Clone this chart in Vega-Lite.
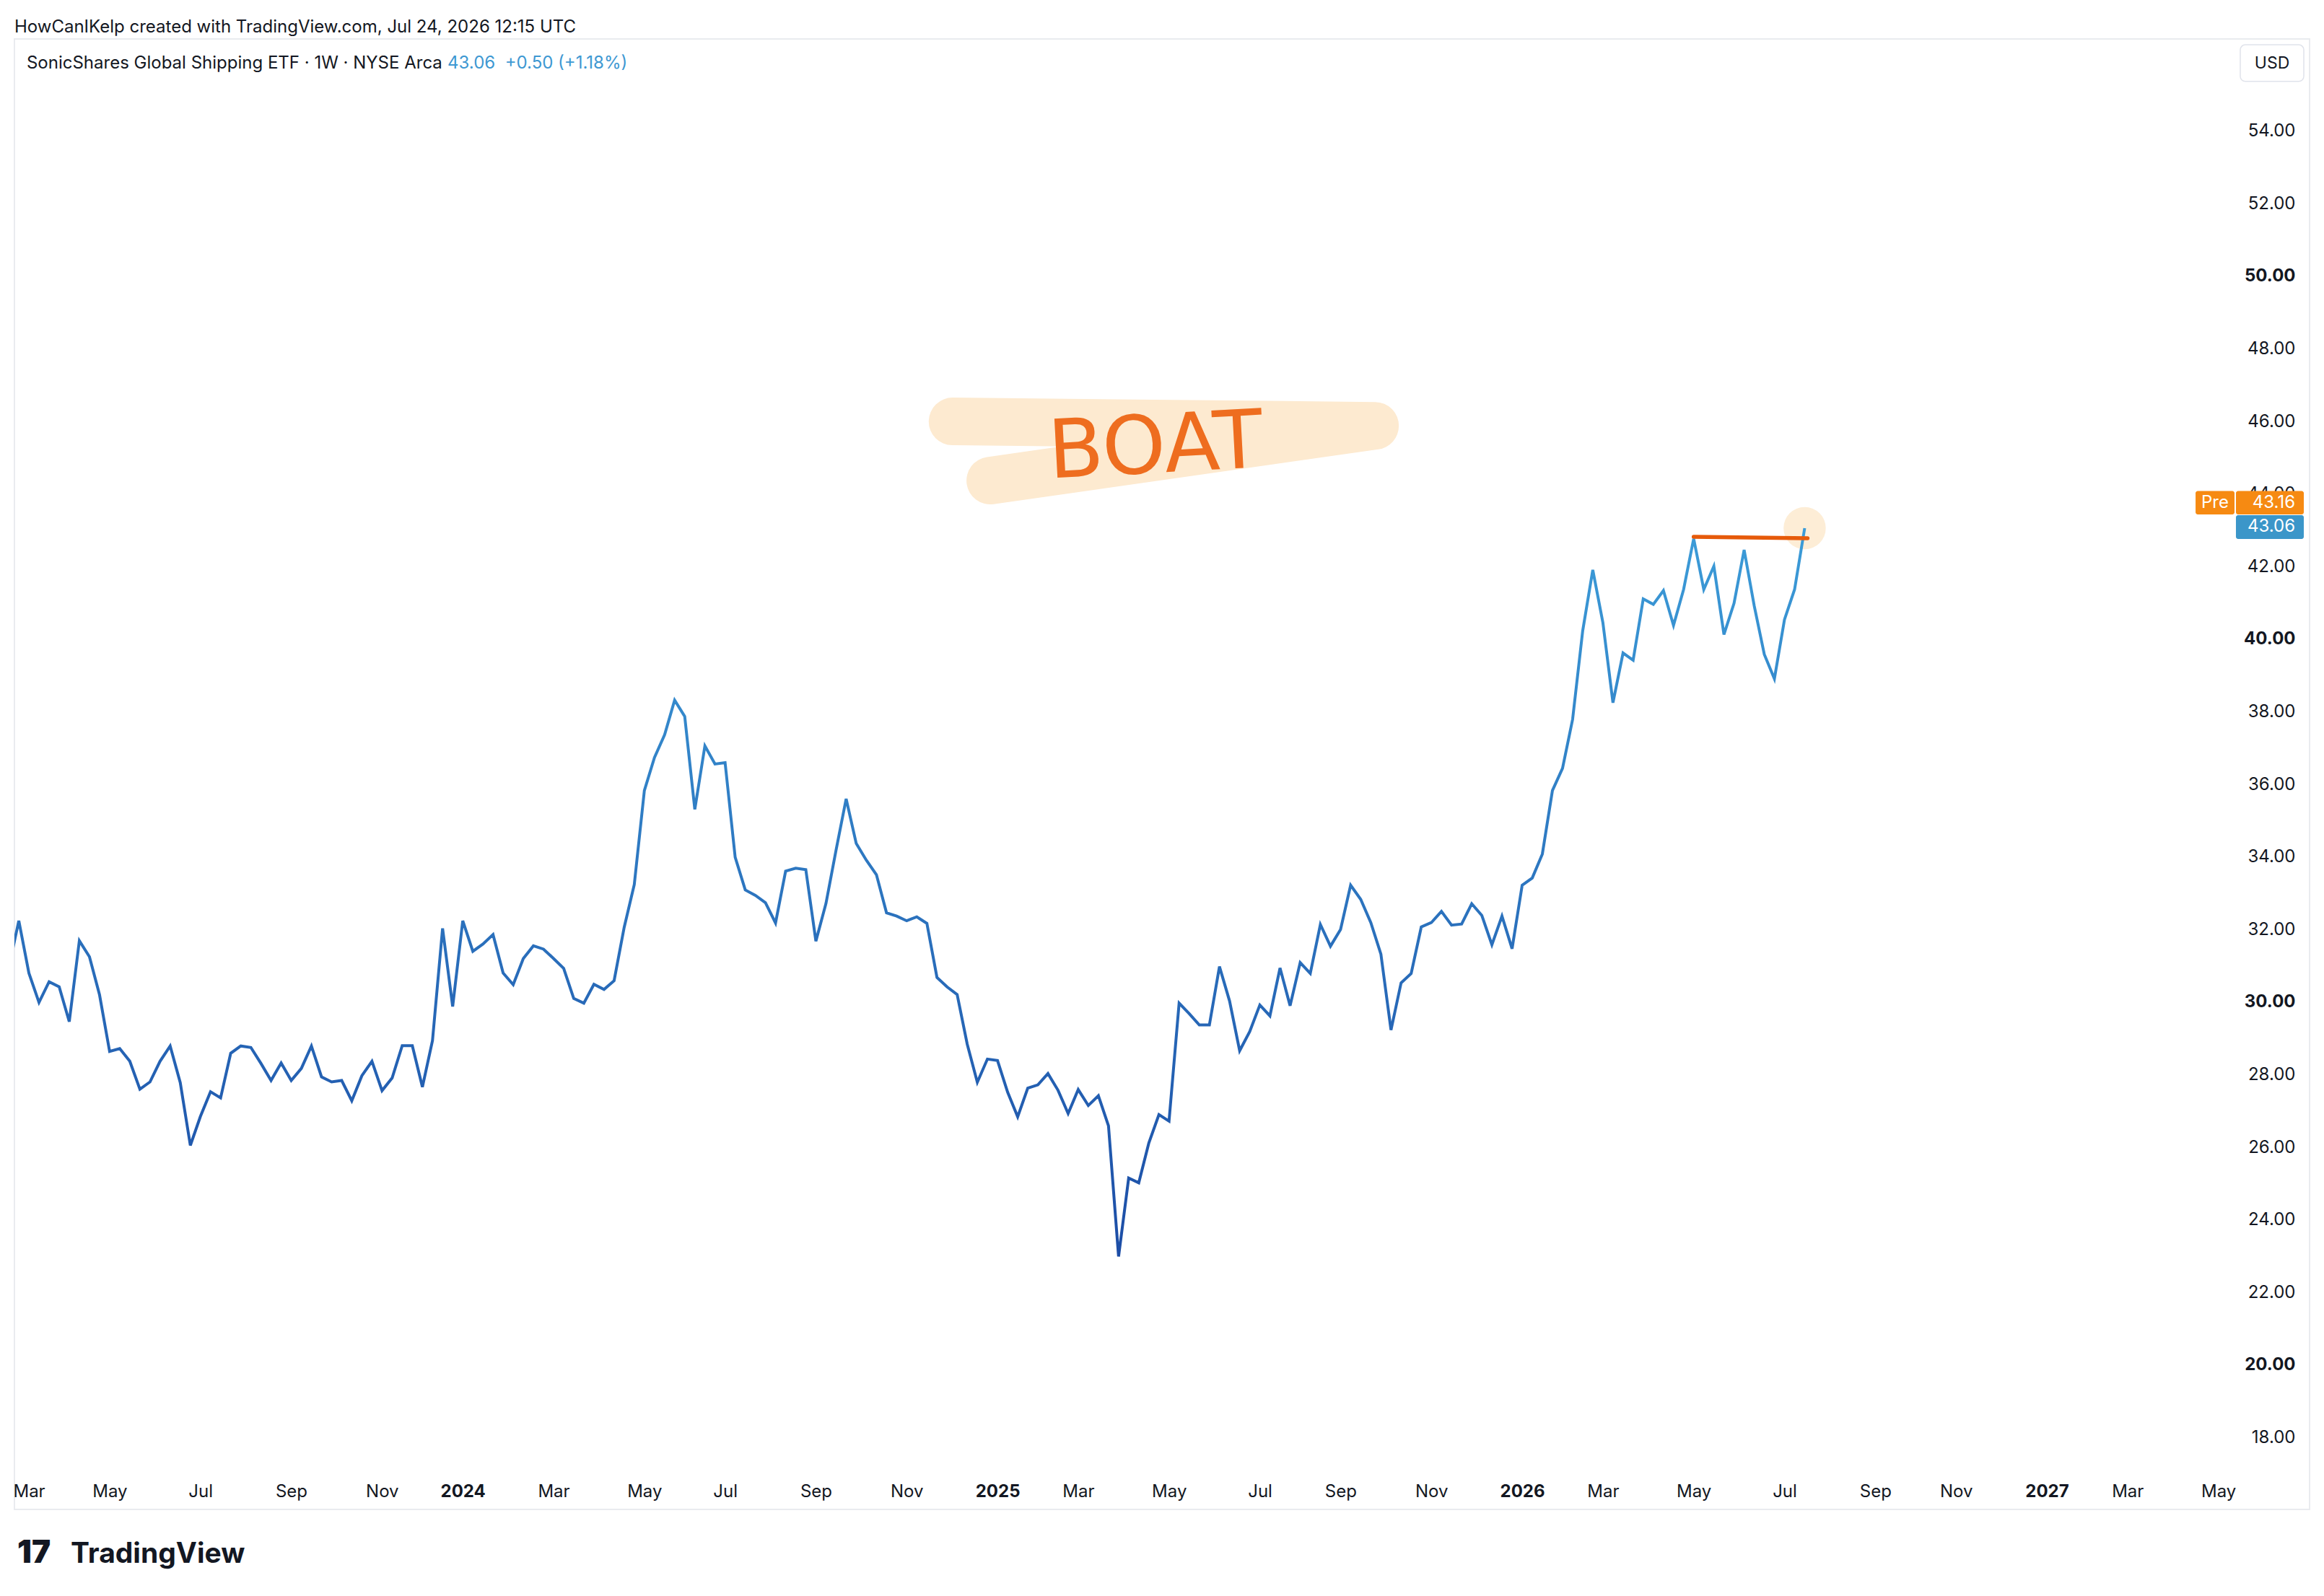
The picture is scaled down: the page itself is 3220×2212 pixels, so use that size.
{
  "$schema": "https://vega.github.io/schema/vega-lite/v6.json",
  "description": "SonicShares Global Shipping ETF (BOAT), weekly close, TradingView style.",
  "width": 3180,
  "height": 2038,
  "autosize": {"type": "none"},
  "padding": {"left": 20, "top": 54, "right": 20, "bottom": 120},
  "background": "#ffffff",
  "config": {
    "font": "Inter",
    "view": {"stroke": "#E9EBEF", "strokeWidth": 2},
    "text": {"font": "Inter", "fontSize": 24, "color": "#131722"}
  },
  "title": {
    "text": "HowCanIKelp created with TradingView.com, Jul 24, 2026 12:15 UTC",
    "anchor": "start",
    "frame": "group",
    "orient": "top",
    "font": "Inter",
    "fontSize": 24,
    "fontWeight": "normal",
    "color": "#131722",
    "baseline": "alphabetic",
    "offset": -15
  },
  "datasets": {
    "weekly": [
      {"week": "2023-02-20", "close": 30.95},
      {"week": "2023-02-27", "close": 32.24},
      {"week": "2023-03-06", "close": 30.80},
      {"week": "2023-03-13", "close": 29.99},
      {"week": "2023-03-20", "close": 30.56},
      {"week": "2023-03-27", "close": 30.42},
      {"week": "2023-04-03", "close": 29.46},
      {"week": "2023-04-10", "close": 31.69},
      {"week": "2023-04-17", "close": 31.25},
      {"week": "2023-04-24", "close": 30.20},
      {"week": "2023-05-01", "close": 28.64},
      {"week": "2023-05-08", "close": 28.72},
      {"week": "2023-05-15", "close": 28.37},
      {"week": "2023-05-22", "close": 27.60},
      {"week": "2023-05-29", "close": 27.80},
      {"week": "2023-06-05", "close": 28.37},
      {"week": "2023-06-12", "close": 28.79},
      {"week": "2023-06-19", "close": 27.78},
      {"week": "2023-06-26", "close": 26.05},
      {"week": "2023-07-03", "close": 26.85},
      {"week": "2023-07-10", "close": 27.53},
      {"week": "2023-07-17", "close": 27.36},
      {"week": "2023-07-24", "close": 28.59},
      {"week": "2023-07-31", "close": 28.79},
      {"week": "2023-08-07", "close": 28.75},
      {"week": "2023-08-14", "close": 28.31},
      {"week": "2023-08-21", "close": 27.84},
      {"week": "2023-08-28", "close": 28.32},
      {"week": "2023-09-04", "close": 27.84},
      {"week": "2023-09-11", "close": 28.17},
      {"week": "2023-09-18", "close": 28.79},
      {"week": "2023-09-25", "close": 27.94},
      {"week": "2023-10-02", "close": 27.80},
      {"week": "2023-10-09", "close": 27.84},
      {"week": "2023-10-16", "close": 27.28},
      {"week": "2023-10-23", "close": 27.97},
      {"week": "2023-10-30", "close": 28.37},
      {"week": "2023-11-06", "close": 27.56},
      {"week": "2023-11-13", "close": 27.91},
      {"week": "2023-11-20", "close": 28.80},
      {"week": "2023-11-27", "close": 28.80},
      {"week": "2023-12-04", "close": 27.66},
      {"week": "2023-12-11", "close": 28.94},
      {"week": "2023-12-18", "close": 32.03},
      {"week": "2023-12-25", "close": 29.88},
      {"week": "2024-01-01", "close": 32.24},
      {"week": "2024-01-08", "close": 31.40},
      {"week": "2024-01-15", "close": 31.60},
      {"week": "2024-01-22", "close": 31.86},
      {"week": "2024-01-29", "close": 30.80},
      {"week": "2024-02-05", "close": 30.48},
      {"week": "2024-02-12", "close": 31.20},
      {"week": "2024-02-19", "close": 31.55},
      {"week": "2024-02-26", "close": 31.46},
      {"week": "2024-03-04", "close": 31.20},
      {"week": "2024-03-11", "close": 30.93},
      {"week": "2024-03-18", "close": 30.10},
      {"week": "2024-03-25", "close": 29.97},
      {"week": "2024-04-01", "close": 30.49},
      {"week": "2024-04-08", "close": 30.35},
      {"week": "2024-04-15", "close": 30.59},
      {"week": "2024-04-22", "close": 32.06},
      {"week": "2024-04-29", "close": 33.24},
      {"week": "2024-05-06", "close": 35.83},
      {"week": "2024-05-13", "close": 36.74},
      {"week": "2024-05-20", "close": 37.36},
      {"week": "2024-05-27", "close": 38.32},
      {"week": "2024-06-03", "close": 37.87},
      {"week": "2024-06-10", "close": 35.31},
      {"week": "2024-06-17", "close": 37.06},
      {"week": "2024-06-24", "close": 36.56},
      {"week": "2024-07-01", "close": 36.60},
      {"week": "2024-07-08", "close": 33.99},
      {"week": "2024-07-15", "close": 33.09},
      {"week": "2024-07-22", "close": 32.94},
      {"week": "2024-07-29", "close": 32.74},
      {"week": "2024-08-05", "close": 32.18},
      {"week": "2024-08-12", "close": 33.61},
      {"week": "2024-08-19", "close": 33.69},
      {"week": "2024-08-26", "close": 33.65},
      {"week": "2024-09-02", "close": 31.68},
      {"week": "2024-09-09", "close": 32.72},
      {"week": "2024-09-16", "close": 34.19},
      {"week": "2024-09-23", "close": 35.60},
      {"week": "2024-09-30", "close": 34.37},
      {"week": "2024-10-07", "close": 33.91},
      {"week": "2024-10-14", "close": 33.51},
      {"week": "2024-10-21", "close": 32.46},
      {"week": "2024-10-28", "close": 32.37},
      {"week": "2024-11-04", "close": 32.24},
      {"week": "2024-11-11", "close": 32.35},
      {"week": "2024-11-18", "close": 32.17},
      {"week": "2024-11-25", "close": 30.68},
      {"week": "2024-12-02", "close": 30.42},
      {"week": "2024-12-09", "close": 30.21},
      {"week": "2024-12-16", "close": 28.84},
      {"week": "2024-12-23", "close": 27.79},
      {"week": "2024-12-30", "close": 28.43},
      {"week": "2025-01-06", "close": 28.39},
      {"week": "2025-01-13", "close": 27.52},
      {"week": "2025-01-20", "close": 26.84},
      {"week": "2025-01-27", "close": 27.63},
      {"week": "2025-02-03", "close": 27.72},
      {"week": "2025-02-10", "close": 28.03},
      {"week": "2025-02-17", "close": 27.57},
      {"week": "2025-02-24", "close": 26.93},
      {"week": "2025-03-03", "close": 27.59},
      {"week": "2025-03-10", "close": 27.15},
      {"week": "2025-03-17", "close": 27.42},
      {"week": "2025-03-24", "close": 26.59},
      {"week": "2025-03-31", "close": 22.99},
      {"week": "2025-04-07", "close": 25.15},
      {"week": "2025-04-14", "close": 25.02},
      {"week": "2025-04-21", "close": 26.12},
      {"week": "2025-04-28", "close": 26.90},
      {"week": "2025-05-05", "close": 26.72},
      {"week": "2025-05-12", "close": 29.97},
      {"week": "2025-05-19", "close": 29.68},
      {"week": "2025-05-26", "close": 29.37},
      {"week": "2025-06-02", "close": 29.37},
      {"week": "2025-06-09", "close": 30.98},
      {"week": "2025-06-16", "close": 30.03},
      {"week": "2025-06-23", "close": 28.66},
      {"week": "2025-06-30", "close": 29.19},
      {"week": "2025-07-07", "close": 29.92},
      {"week": "2025-07-14", "close": 29.62},
      {"week": "2025-07-21", "close": 30.94},
      {"week": "2025-07-28", "close": 29.90},
      {"week": "2025-08-04", "close": 31.09},
      {"week": "2025-08-11", "close": 30.79},
      {"week": "2025-08-18", "close": 32.14},
      {"week": "2025-08-25", "close": 31.54},
      {"week": "2025-09-01", "close": 32.00},
      {"week": "2025-09-08", "close": 33.22},
      {"week": "2025-09-15", "close": 32.83},
      {"week": "2025-09-22", "close": 32.19},
      {"week": "2025-09-29", "close": 31.32},
      {"week": "2025-10-06", "close": 29.23},
      {"week": "2025-10-13", "close": 30.53},
      {"week": "2025-10-20", "close": 30.79},
      {"week": "2025-10-27", "close": 32.07},
      {"week": "2025-11-03", "close": 32.19},
      {"week": "2025-11-10", "close": 32.50},
      {"week": "2025-11-17", "close": 32.12},
      {"week": "2025-11-24", "close": 32.15},
      {"week": "2025-12-01", "close": 32.71},
      {"week": "2025-12-08", "close": 32.39},
      {"week": "2025-12-15", "close": 31.58},
      {"week": "2025-12-22", "close": 32.37},
      {"week": "2025-12-29", "close": 31.47},
      {"week": "2026-01-05", "close": 33.22},
      {"week": "2026-01-12", "close": 33.42},
      {"week": "2026-01-19", "close": 34.08},
      {"week": "2026-01-26", "close": 35.83},
      {"week": "2026-02-02", "close": 36.44},
      {"week": "2026-02-09", "close": 37.79},
      {"week": "2026-02-16", "close": 40.23},
      {"week": "2026-02-23", "close": 41.91},
      {"week": "2026-03-02", "close": 40.46},
      {"week": "2026-03-09", "close": 38.25},
      {"week": "2026-03-16", "close": 39.62},
      {"week": "2026-03-23", "close": 39.42},
      {"week": "2026-03-30", "close": 41.11},
      {"week": "2026-04-06", "close": 40.96},
      {"week": "2026-04-13", "close": 41.34},
      {"week": "2026-04-20", "close": 40.38},
      {"week": "2026-04-27", "close": 41.37},
      {"week": "2026-05-04", "close": 42.77},
      {"week": "2026-05-11", "close": 41.37},
      {"week": "2026-05-18", "close": 42.01},
      {"week": "2026-05-25", "close": 40.13},
      {"week": "2026-06-01", "close": 40.99},
      {"week": "2026-06-08", "close": 42.46},
      {"week": "2026-06-15", "close": 40.92},
      {"week": "2026-06-22", "close": 39.58},
      {"week": "2026-06-29", "close": 38.91},
      {"week": "2026-07-06", "close": 40.54},
      {"week": "2026-07-13", "close": 41.37},
      {"week": "2026-07-20", "close": 43.06}
    ],
    "scribble": [
      {"step": 1, "week": "2024-12-05T19:00:00Z", "level": 46.00},
      {"step": 2, "week": "2025-09-24T22:00:00Z", "level": 45.88},
      {"step": 3, "week": "2025-01-01T00:00:00Z", "level": 44.37}
    ],
    "resistance": [
      {"week": "2026-05-04", "level": 42.82},
      {"week": "2026-07-22", "level": 42.78}
    ]
  },
  "layer": [
    {
      "data": {"name": "scribble"},
      "mark": {"type": "line", "color": "#FDEAD0", "strokeWidth": 66, "strokeCap": "round", "strokeJoin": "round", "clip": false},
      "encoding": {
        "x": {"field": "week", "type": "temporal", "scale": {"type": "utc", "nice": false, "domain": [{"year": 2023, "month": 2, "date": 23, "hours": 23, "utc": true}, {"year": 2027, "month": 7, "date": 5, "hours": 7, "utc": true}]},
          "axis": {
            "values": [
              {"year": 2023, "month": 3, "date": 6, "utc": true}, {"year": 2023, "month": 5, "date": 1, "utc": true}, {"year": 2023, "month": 7, "date": 3, "utc": true}, {"year": 2023, "month": 9, "date": 4, "utc": true}, {"year": 2023, "month": 11, "date": 6, "utc": true},
              {"year": 2024, "month": 1, "date": 1, "utc": true}, {"year": 2024, "month": 3, "date": 4, "utc": true}, {"year": 2024, "month": 5, "date": 6, "utc": true}, {"year": 2024, "month": 7, "date": 1, "utc": true}, {"year": 2024, "month": 9, "date": 2, "utc": true}, {"year": 2024, "month": 11, "date": 4, "utc": true},
              {"year": 2025, "month": 1, "date": 6, "utc": true}, {"year": 2025, "month": 3, "date": 3, "utc": true}, {"year": 2025, "month": 5, "date": 5, "utc": true}, {"year": 2025, "month": 7, "date": 7, "utc": true}, {"year": 2025, "month": 9, "date": 1, "utc": true}, {"year": 2025, "month": 11, "date": 3, "utc": true},
              {"year": 2026, "month": 1, "date": 5, "utc": true}, {"year": 2026, "month": 3, "date": 2, "utc": true}, {"year": 2026, "month": 5, "date": 4, "utc": true}, {"year": 2026, "month": 7, "date": 6, "utc": true}, {"year": 2026, "month": 9, "date": 7, "utc": true}, {"year": 2026, "month": 11, "date": 2, "utc": true},
              {"year": 2027, "month": 1, "date": 4, "utc": true}, {"year": 2027, "month": 3, "date": 1, "utc": true}, {"year": 2027, "month": 5, "date": 3, "utc": true}
            ],
            "labelExpr": "utcmonth(datum.value) === 0 ? utcFormat(datum.value, '%Y') : utcFormat(datum.value, '%b')",
            "labelFontWeight": {"condition": {"test": "utcmonth(datum.value) === 0", "value": "bold"}, "value": "normal"},
            "labelFont": "Inter", "labelFontSize": 24, "labelColor": "#131722",
            "labelBaseline": "middle", "labelPadding": -25, "labelOverlap": false, "labelFlush": false,
            "ticks": false, "tickSize": 0, "domain": false, "grid": false, "title": null
          }
        },
        "y": {"field": "level", "type": "quantitative", "scale": {"domain": [16.02, 56.54], "nice": false, "zero": false},
          "axis": {
            "orient": "right",
            "values": [18, 20, 22, 24, 26, 28, 30, 32, 34, 36, 38, 40, 42, 44, 46, 48, 50, 52, 54],
            "format": ".2f",
            "labelFontWeight": {"condition": {"test": "datum.value % 10 === 0", "value": "bold"}, "value": "normal"},
            "labelFont": "Inter", "labelFontSize": 24, "labelColor": "#131722",
            "labelAlign": "right", "labelBaseline": "middle", "labelPadding": -20, "labelOverlap": false, "labelFlush": false,
            "ticks": false, "tickSize": 0, "domain": false, "grid": false, "title": null
          }
        },
        "order": {"field": "step", "type": "quantitative"}
      }
    },
    {
      "data": {"values": [{"tag": "BOAT"}]},
      "mark": {"type": "text", "font": "DejaVu Sans", "fontSize": 112, "fontWeight": "normal", "color": "#EE6D1F", "align": "center", "baseline": "middle", "angle": 357},
      "encoding": {
        "text": {"field": "tag"},
        "x": {"datum": {"year": 2025, "month": 4, "date": 25, "hours": 14, "utc": true}, "type": "temporal"},
        "y": {"datum": 45.27, "type": "quantitative"}
      }
    },
    {
      "data": {"name": "weekly"},
      "transform": [{"filter": "datum.close === 43.06"}],
      "mark": {"type": "point", "filled": true, "shape": "circle", "size": 3420, "color": "#FDEDD6", "opacity": 1},
      "encoding": {
        "x": {"field": "week", "type": "temporal"},
        "y": {"field": "close", "type": "quantitative"}
      }
    },
    {
      "data": {"name": "weekly"},
      "mark": {
        "type": "line", "clip": true, "strokeWidth": 4, "strokeJoin": "miter",
        "color": {"gradient": "linear", "x1": 0, "y1": 0, "x2": 0, "y2": 1, "stops": [{"offset": 0, "color": "#3C9CD8"}, {"offset": 1, "color": "#1C4DA6"}]}
      },
      "encoding": {
        "x": {"field": "week", "type": "temporal"},
        "y": {"field": "close", "type": "quantitative"}
      }
    },
    {
      "data": {"name": "resistance"},
      "mark": {"type": "line", "color": "#E65A0A", "strokeWidth": 5.5, "strokeCap": "round"},
      "encoding": {
        "x": {"field": "week", "type": "temporal"},
        "y": {"field": "level", "type": "quantitative"}
      }
    },
    {
      "data": {"values": [{"label": "SonicShares Global Shipping ETF · 1W · NYSE Arca"}]},
      "mark": {"type": "text", "align": "left", "baseline": "middle", "fontSize": 24, "color": "#131722"},
      "encoding": {
        "text": {"field": "label"},
        "x": {"datum": {"year": 2023, "month": 3, "date": 4, "hours": 11, "utc": true}, "type": "temporal"},
        "y": {"datum": 55.865, "type": "quantitative"}
      }
    },
    {
      "data": {"values": [{"label": "43.06\u00a0 +0.50 (+1.18%)"}]},
      "mark": {"type": "text", "align": "left", "baseline": "middle", "fontSize": 24, "color": "#3E98D2"},
      "encoding": {
        "text": {"field": "label"},
        "x": {"datum": {"year": 2023, "month": 12, "date": 21, "hours": 10, "utc": true}, "type": "temporal"},
        "y": {"datum": 55.865, "type": "quantitative"}
      }
    },
    {
      "data": {"values": [{"label": "USD"}]},
      "mark": {"type": "rect", "fill": "#ffffff", "stroke": "#E0E3EB", "strokeWidth": 1.5, "cornerRadius": 7},
      "encoding": {
        "x": {"datum": {"year": 2027, "month": 5, "date": 18, "hours": 5, "utc": true}, "type": "temporal"},
        "x2": {"datum": {"year": 2027, "month": 7, "date": 1, "hours": 7, "utc": true}},
        "y": {"datum": 56.38, "type": "quantitative"},
        "y2": {"datum": 55.37}
      }
    },
    {
      "data": {"values": [{"label": "USD"}]},
      "mark": {"type": "text", "align": "center", "baseline": "middle", "fontSize": 23, "color": "#131722"},
      "encoding": {
        "text": {"field": "label"},
        "x": {"datum": {"year": 2027, "month": 6, "date": 9, "hours": 7, "utc": true}, "type": "temporal"},
        "y": {"datum": 55.865, "type": "quantitative"}
      }
    },
    {
      "data": {"values": [{"label": "Pre"}]},
      "mark": {"type": "rect", "fill": "#F68A12", "cornerRadius": 3},
      "encoding": {
        "x": {"datum": {"year": 2027, "month": 4, "date": 17, "hours": 5, "utc": true}, "type": "temporal"},
        "x2": {"datum": {"year": 2027, "month": 5, "date": 14, "hours": 5, "utc": true}},
        "y": {"datum": 44.085, "type": "quantitative"},
        "y2": {"datum": 43.44}
      }
    },
    {
      "data": {"values": [{"label": "43.16"}]},
      "mark": {"type": "rect", "fill": "#F68A12", "cornerRadius": 3},
      "encoding": {
        "x": {"datum": {"year": 2027, "month": 5, "date": 15, "hours": 5, "utc": true}, "type": "temporal"},
        "x2": {"datum": {"year": 2027, "month": 7, "date": 1, "hours": 7, "utc": true}},
        "y": {"datum": 44.085, "type": "quantitative"},
        "y2": {"datum": 43.44}
      }
    },
    {
      "data": {"values": [{"label": "43.06"}]},
      "mark": {"type": "rect", "fill": "#3B96C9", "cornerRadius": 3},
      "encoding": {
        "x": {"datum": {"year": 2027, "month": 5, "date": 15, "hours": 5, "utc": true}, "type": "temporal"},
        "x2": {"datum": {"year": 2027, "month": 7, "date": 1, "hours": 7, "utc": true}},
        "y": {"datum": 43.42, "type": "quantitative"},
        "y2": {"datum": 42.763}
      }
    },
    {
      "data": {"values": [{"label": "Pre"}]},
      "mark": {"type": "text", "align": "center", "baseline": "middle", "fontSize": 24, "color": "#ffffff"},
      "encoding": {
        "text": {"field": "label"},
        "x": {"datum": {"year": 2027, "month": 4, "date": 30, "hours": 17, "utc": true}, "type": "temporal"},
        "y": {"datum": 43.762, "type": "quantitative"}
      }
    },
    {
      "data": {"values": [{"label": "43.16", "price": 43.762}, {"label": "43.06", "price": 43.09}]},
      "mark": {"type": "text", "align": "right", "baseline": "middle", "fontSize": 24, "color": "#ffffff"},
      "encoding": {
        "text": {"field": "label"},
        "x": {"datum": {"year": 2027, "month": 6, "date": 25, "hours": 7, "utc": true}, "type": "temporal"},
        "y": {"field": "price", "type": "quantitative"}
      }
    },
    {
      "data": {"values": [{"label": "17"}]},
      "mark": {"type": "text", "align": "left", "baseline": "alphabetic", "fontSize": 44, "fontWeight": 900, "color": "#131722"},
      "encoding": {
        "text": {"field": "label"},
        "x": {"datum": {"year": 2023, "month": 2, "date": 26, "utc": true}, "type": "temporal"},
        "y": {"datum": 14.553, "type": "quantitative"}
      }
    },
    {
      "data": {"values": [{"label": "TradingView"}]},
      "mark": {"type": "text", "align": "left", "baseline": "alphabetic", "fontSize": 39, "fontWeight": 700, "color": "#131722"},
      "encoding": {
        "text": {"field": "label"},
        "x": {"datum": {"year": 2023, "month": 4, "date": 4, "utc": true}, "type": "temporal"},
        "y": {"datum": 14.553, "type": "quantitative"}
      }
    }
  ]
}
